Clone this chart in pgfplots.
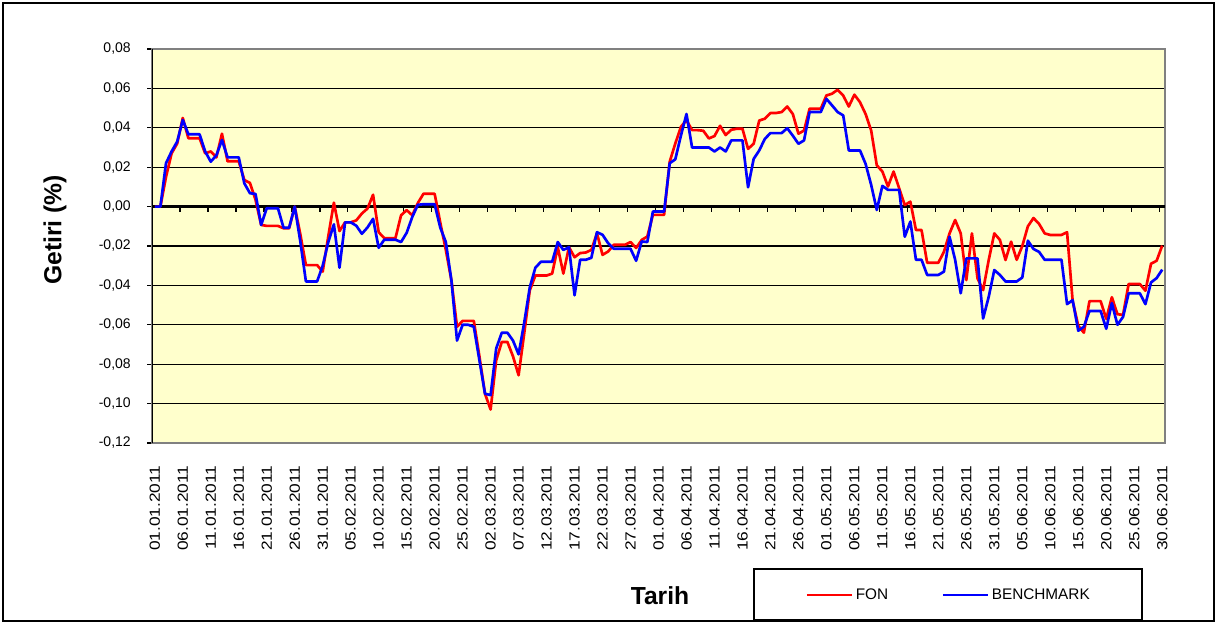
\documentclass[border=0pt]{standalone}
\usepackage{fontspec}
\setmainfont{Liberation Sans}
\usepackage{graphicx}
\usepackage{pgfplots}
\usepackage{pgfplotstable}
\pgfplotsset{compat=1.18}
\definecolor{bgyellow}{HTML}{FFFFCC}
\definecolor{fonred}{HTML}{FF0000}
\definecolor{benchblue}{HTML}{0000FF}
\newcommand{\xl}[1]{\scalebox{1.18}[1]{#1}}

\pgfplotstableread{
day fon bench
0 0 0
1 0 0
2 0.015 0.022
3 0.027 0.028
4 0.032 0.033
5 0.045 0.044
6 0.0347 0.0367
7 0.0347 0.0367
8 0.0347 0.0367
9 0.027 0.028
10 0.028 0.0228
11 0.025 0.026
12 0.037 0.0338
13 0.023 0.025
14 0.023 0.025
15 0.023 0.025
16 0.0135 0.0118
17 0.012 0.0068
18 0.0034 0.0064
19 -0.0093 -0.0093
20 -0.0098 -0.0008
21 -0.0098 -0.0008
22 -0.0098 -0.0008
23 -0.011 -0.0107
24 -0.011 -0.0107
25 0.0 0.0
26 -0.014 -0.0177
27 -0.0297 -0.038
28 -0.0297 -0.038
29 -0.0297 -0.038
30 -0.033 -0.030
31 -0.015 -0.018
32 0.002 -0.009
33 -0.0124 -0.031
34 -0.008 -0.008
35 -0.008 -0.008
36 -0.007 -0.0097
37 -0.0035 -0.0138
38 -0.001 -0.0106
39 0.006 -0.0062
40 -0.013 -0.0209
41 -0.016 -0.0168
42 -0.016 -0.0168
43 -0.016 -0.0168
44 -0.0044 -0.018
45 -0.0018 -0.0133
46 -0.0044 -0.0053
47 0.0018 0.0009
48 0.0065 0.0012
49 0.0065 0.0012
50 0.0065 0.0012
51 -0.008 -0.0106
52 -0.022 -0.018
53 -0.0375 -0.0375
54 -0.061 -0.068
55 -0.058 -0.060
56 -0.058 -0.060
57 -0.058 -0.061
58 -0.076 -0.078
59 -0.095 -0.095
60 -0.103 -0.0957
61 -0.078 -0.072
62 -0.0687 -0.064
63 -0.0687 -0.064
64 -0.076 -0.068
65 -0.0856 -0.075
66 -0.0645 -0.059
67 -0.0425 -0.041
68 -0.035 -0.031
69 -0.035 -0.028
70 -0.035 -0.028
71 -0.034 -0.028
72 -0.0206 -0.018
73 -0.034 -0.022
74 -0.0206 -0.0206
75 -0.0257 -0.045
76 -0.0236 -0.027
77 -0.0233 -0.027
78 -0.022 -0.026
79 -0.0135 -0.013
80 -0.0245 -0.0143
81 -0.0228 -0.0186
82 -0.0194 -0.0214
83 -0.0194 -0.0214
84 -0.0194 -0.0214
85 -0.018 -0.0214
86 -0.021 -0.0275
87 -0.0169 -0.0177
88 -0.0152 -0.018
89 -0.0042 -0.0025
90 -0.0042 -0.0025
91 -0.0042 -0.0025
92 0.0228 0.022
93 0.032 0.024
94 0.0405 0.036
95 0.0439 0.047
96 0.0388 0.030
97 0.0388 0.030
98 0.0385 0.030
99 0.0346 0.030
100 0.0358 0.028
101 0.041 0.030
102 0.0363 0.028
103 0.039 0.0336
104 0.0395 0.0336
105 0.0395 0.0336
106 0.0293 0.0098
107 0.0319 0.0242
108 0.0437 0.0285
109 0.0446 0.0344
110 0.0475 0.0373
111 0.0475 0.0373
112 0.048 0.0373
113 0.0508 0.0398
114 0.047 0.036
115 0.037 0.0319
116 0.0386 0.0336
117 0.0497 0.048
118 0.0497 0.048
119 0.0497 0.048
120 0.0564 0.0547
121 0.0573 0.0514
122 0.0593 0.048
123 0.0564 0.0463
124 0.0508 0.0285
125 0.0568 0.0285
126 0.053 0.0285
127 0.047 0.0217
128 0.0386 0.011
129 0.021 -0.0017
130 0.0178 0.0105
131 0.0102 0.0085
132 0.0178 0.0085
133 0.0093 0.0085
134 0.0008 -0.0153
135 0.0025 -0.0076
136 -0.0119 -0.027
137 -0.0119 -0.027
138 -0.0285 -0.0347
139 -0.0285 -0.0347
140 -0.0285 -0.0347
141 -0.0229 -0.033
142 -0.0136 -0.0153
143 -0.0068 -0.027
144 -0.0136 -0.044
145 -0.0373 -0.0263
146 -0.0136 -0.0263
147 -0.0364 -0.0263
148 -0.0424 -0.0568
149 -0.0271 -0.0458
150 -0.0136 -0.0322
151 -0.0169 -0.0347
152 -0.0271 -0.038
153 -0.0178 -0.038
154 -0.027 -0.038
155 -0.020 -0.036
156 -0.010 -0.0173
157 -0.0058 -0.0215
158 -0.0088 -0.023
159 -0.0136 -0.027
160 -0.0144 -0.027
161 -0.0144 -0.027
162 -0.0144 -0.027
163 -0.013 -0.0495
164 -0.048 -0.0475
165 -0.0605 -0.063
166 -0.064 -0.061
167 -0.048 -0.053
168 -0.048 -0.053
169 -0.048 -0.053
170 -0.057 -0.062
171 -0.046 -0.049
172 -0.0546 -0.060
173 -0.055 -0.056
174 -0.0393 -0.044
175 -0.0393 -0.044
176 -0.0393 -0.044
177 -0.0427 -0.0495
178 -0.029 -0.0385
179 -0.0275 -0.0363
180 -0.0198 -0.032
}\datatable

\begin{document}
\begin{tikzpicture}
\begin{scope}[x=0.75pt,y=0.75pt]
\useasboundingbox (0,0) rectangle (1219,624);
\draw[line width=1.1pt] (3,3) rectangle (1214,621);
\end{scope}
\begin{axis}[
  at={(114pt,135.75pt)}, anchor=south west,
  width=759.75pt, height=295.5pt, scale only axis,
  xmin=-0.5, xmax=180.5, ymin=-0.12, ymax=0.08,
  axis background/.style={fill=bgyellow},
  axis line style={draw=gray, line width=0.9pt},
  ytick={-0.12,-0.1,-0.08,-0.06,-0.04,-0.02,0,0.02,0.04,0.06,0.08},
  ymajorgrids, grid style={black, line width=0.9pt},
  extra y ticks={0}, extra y tick labels={},
  extra y tick style={grid style={black, line width=2.2pt}, major tick length=0pt},
  tick align=outside, ytick pos=left,
  major tick length=3.75pt,
  ytick style={black, line width=0.9pt},
  yticklabel style={font=\fontsize{10.5}{12}\selectfont, anchor=east, inner sep=0pt,
    /pgf/number format/.cd, fixed, fixed zerofill, precision=2, use comma, assume math mode=true},
  yticklabel shift={12pt},
  xtick={0,5,...,180},
  xtick style={draw=none},
  xticklabels={\xl{01.01.2011},\xl{06.01.2011},\xl{11.01.2011},\xl{16.01.2011},\xl{21.01.2011},\xl{26.01.2011},\xl{31.01.2011},\xl{05.02.2011},\xl{10.02.2011},\xl{15.02.2011},\xl{20.02.2011},\xl{25.02.2011},\xl{02.03.2011},\xl{07.03.2011},\xl{12.03.2011},\xl{17.03.2011},\xl{22.03.2011},\xl{27.03.2011},\xl{01.04.2011},\xl{06.04.2011},\xl{11.04.2011},\xl{16.04.2011},\xl{21.04.2011},\xl{26.04.2011},\xl{01.05.2011},\xl{06.05.2011},\xl{11.05.2011},\xl{16.05.2011},\xl{21.05.2011},\xl{26.05.2011},\xl{31.05.2011},\xl{05.06.2011},\xl{10.06.2011},\xl{15.06.2011},\xl{20.06.2011},\xl{25.06.2011},\xl{30.06.2011}},
  xticklabel style={font=\fontsize{11}{13}\selectfont, rotate=90, anchor=east, inner sep=0pt},
  xticklabel shift={13pt},
  legend columns=2,
  legend style={at={(0.7867,-0.3858)}, anchor=center, draw=none, fill=none,
    font=\fontsize{11.5}{13}\selectfont,
    /tikz/every even column/.append style={column sep=38pt}},
  legend image code/.code={\draw[#1] (0pt,0pt) -- (33.75pt,0pt);},
]
\pgfplotsinvokeforeach{1,...,36}{
  \draw[black, line width=0.9pt] (axis cs:{5*#1-0.5},0) -- ++(0pt,-3.75pt);
}
\addplot[fonred, line width=2pt, line join=round] table[x=day, y=fon] {\datatable};
\addplot[benchblue, line width=2pt, line join=round] table[x=day, y=bench] {\datatable};
\draw[black, line width=1.3pt] (rel axis cs:0,0) -- (rel axis cs:0,1);
\legend{FON, BENCHMARK}
\end{axis}
\begin{scope}[x=0.75pt,y=0.75pt]
\draw[line width=1pt] (754,4) rectangle (1142,55);
\node[font=\bfseries\fontsize{18.5}{20}\selectfont] at (660,28) {Tarih};
\node[font=\bfseries\fontsize{18.5}{20}\selectfont, rotate=90] at (55,394) {Getiri (\%)};
\end{scope}
\end{tikzpicture}
\end{document}
